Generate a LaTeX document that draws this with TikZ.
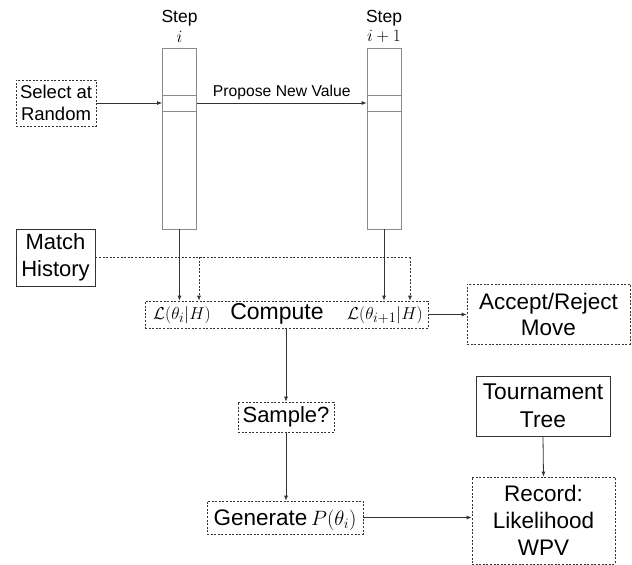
\documentclass[tikz,border=0pt]{standalone}
\usepackage{fontspec}
\setmainfont{Liberation Sans}
\usetikzlibrary{arrows.meta}
\definecolor{ln}{HTML}{333333}
\definecolor{colgray}{HTML}{8A8A8A}
\tikzset{
  x=1pt, y=-1pt,
  dotbox/.style={draw=ln, dash pattern=on 2pt off 1.6pt, line width=0.7pt, inner sep=0pt},
  solidbox/.style={draw=ln, line width=0.8pt, inner sep=0pt},
  colbox/.style={draw=colgray, line width=0.8pt, inner sep=0pt},
  conn/.style={draw=ln, line width=0.8pt, -{Latex[length=5pt,width=4pt]}},
  dconn/.style={draw=ln, line width=0.7pt, dash pattern=on 2pt off 1.6pt, -{Latex[length=5pt,width=4pt]}},
  fs15/.style={font=\fontsize{18.5}{22}\selectfont, align=center},
  fs20/.style={font=\fontsize{22}{27}\selectfont, align=center},
  fs22/.style={font=\fontsize{22.5}{26}\selectfont, align=center},
}
\begin{document}
\begin{tikzpicture}
\useasboundingbox (0,0) rectangle (632,565);

% columns
\node[colbox, minimum width=34pt, minimum height=181pt] (c1) at (179.5,138.5) {};
\node[colbox, minimum width=34pt, minimum height=181pt] (c2) at (384,138.5) {};
\draw[colgray, line width=0.8pt] (c1.west |- 0,95) -- (c1.east |- 0,95) (c1.west |- 0,111) -- (c1.east |- 0,111);
\draw[colgray, line width=0.8pt] (c2.west |- 0,95) -- (c2.east |- 0,95) (c2.west |- 0,111) -- (c2.east |- 0,111);
\coordinate (c1m) at (c1.west |- 0,103);
\coordinate (c1me) at (c1.east |- 0,103);
\coordinate (c2m) at (c2.west |- 0,103);

% step labels
\node[font=\fontsize{17.5}{18}\selectfont] (s1) at (179.5,18) {Step};
\node[font=\fontsize{17.5}{18}\selectfont, inner sep=0pt] (s1i) at (179.5,37) {$i$};
\node[font=\fontsize{17.5}{18}\selectfont] (s2) at (384,18) {Step};
\node[font=\fontsize{17.5}{18}\selectfont, inner sep=0pt] (s2i) at (384,36) {$i+1$};

% select at random
\node[dotbox, fs15, minimum width=80pt, minimum height=46pt] (sel) at (56,103) {Select at\\Random};
\draw[conn] (sel.east |- c1m) -- (c1m);
\draw[conn] (c1me) -- node[above, font=\fontsize{15.7}{18}\selectfont, inner sep=2pt, yshift=0.5pt] (pnv) {Propose New Value} (c2m);

% match history
\node[solidbox, fs20, minimum width=79pt, minimum height=57pt] (mh) at (55.5,257.5) {Match\\History};

% compute box
\node[dotbox, minimum width=283pt, minimum height=27pt] (cmp) at (286.5,314.5) {};
\node[font=\fontsize{19}{22}\selectfont, inner sep=0pt] (l1) at (182,315) {$\mathcal{L}(\theta_i|H)$};
\node[font=\fontsize{23}{25}\selectfont, inner sep=0pt] (cmpt) at (277,314) {Compute};
\node[font=\fontsize{19}{22}\selectfont, inner sep=0pt] (l2) at (385,315) {$\mathcal{L}(\theta_{i+1}|H)$};

\draw[conn] (c1.south) -- (c1.south |- cmp.north);
\draw[conn] (c2.south) -- (c2.south |- cmp.north);
\coordinate (dh1) at (199,257);
\coordinate (dh2) at (410,257);
\draw[ln, line width=0.7pt, dash pattern=on 2pt off 1.6pt] (mh.east |- dh1) -- (dh2);
\draw[dconn] (dh1) -- (dh1 |- cmp.north);
\draw[dconn] (dh2) -- (dh2 |- cmp.north);

% accept/reject
\node[dotbox, fs22, minimum width=163pt, minimum height=60pt] (acc) at (548.5,314) {Accept/Reject\\Move};
\draw[conn] (cmp.east) -- (acc.west |- cmp.east);

% sample
\node[dotbox, fs20, minimum width=96pt, minimum height=30pt] (smp) at (286,417) {Sample?};
\draw[conn] (smp.north |- cmp.south) -- (smp.north);

% generate
\node[dotbox, minimum width=156pt, minimum height=33pt] (gen) at (285,517.5) {};
\node[font=\fontsize{22.5}{24}\selectfont, inner sep=0pt, anchor=base] (gent) at (285,525.5) {Generate\,$P(\theta_i)$};
\draw[conn] (smp.south) -- (smp.south |- gen.north);

% tournament tree
\node[solidbox, font=\fontsize{22.8}{28}\selectfont, align=center, minimum width=134pt, minimum height=60pt] (tt) at (543,406) {Tournament\\Tree};

% record
\node[dotbox, font=\fontsize{22.5}{27}\selectfont, align=center, minimum width=143pt, minimum height=87pt] (rec) at (543.5,520.5) {Record:\\Likelihood\\WPV};
\draw[conn] (tt.south) -- (rec.north);
\draw[conn] (gen.east) -- (rec.west |- gen.east);
\end{tikzpicture}
\end{document}
